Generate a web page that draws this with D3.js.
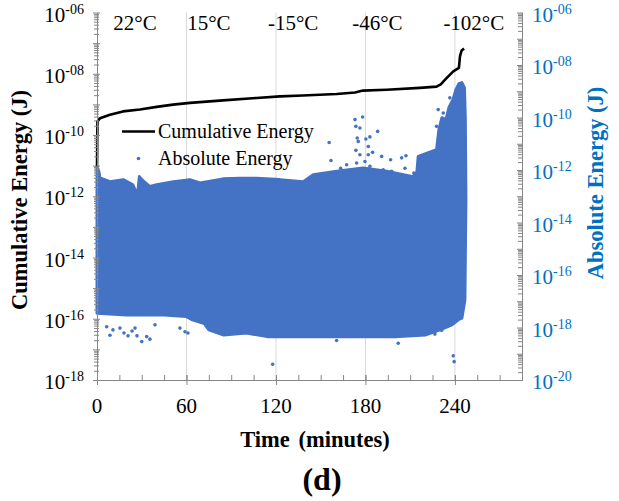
<!DOCTYPE html>
<html><head><meta charset="utf-8">
<script src="https://cdn.jsdelivr.net/npm/d3@7"></script>
<style>body{margin:0;background:#fff} svg{display:block}</style>
</head><body><svg id="c" width="619" height="501"></svg>
<script>
// ---------- data ----------
const cumTime   = [0, 0.3, 2.0, 8.7, 17.4, 28.8, 40, 51, 62.3, 84.5, 107, 122.7, 138, 160.7, 173, 178.3, 194.2, 216.5, 227.7, 230.5, 234.4, 238.9, 242.7, 243.4, 244.5, 246.2];
const cumEnergy = [9.1e-12, 2.8e-10, 3.5e-10, 4.6e-10, 5.9e-10, 6.8e-10, 8.3e-10, 9.8e-10, 1.12e-9, 1.35e-9, 1.62e-9, 1.82e-9, 1.95e-9, 2.19e-9, 2.45e-9, 2.82e-9, 3.02e-9, 3.47e-9, 3.8e-9, 4.5e-9, 7.2e-9, 1.2e-8, 1.55e-8, 3.7e-8, 5.75e-8, 6.6e-8];

// dense cloud of absolute-energy hits: upper and lower envelope
const absUpperTime   = [0, 1.3, 2.0, 8.7, 17.6, 24.1, 26.1, 27.5, 28.4, 30.8, 35.5, 40, 51.2, 62.3, 69, 84.5, 95.9, 107, 122.7, 138.3, 145, 160.7, 178.5, 194.2, 212, 214.5, 215.4, 227.7, 229.3, 231.3, 234, 236, 238.7, 240.7, 242.7, 244.7, 246.4, 247, 247.4, 246.7];
const absUpperEnergy = [1.38e-12, 8.5e-13, 5.0e-13, 3.6e-13, 4.3e-13, 2.75e-13, 1.48e-13, 1.74e-13, 5.6e-13, 3.9e-13, 2.34e-13, 2.75e-13, 3.6e-13, 4.3e-13, 3.2e-13, 4.6e-13, 4.9e-13, 4.9e-13, 4.3e-13, 3.6e-13, 6.6e-13, 9.0e-13, 1.2e-12, 8.9e-13, 5.6e-13, 8.5e-13, 3.3e-12, 5.9e-12, 3.5e-11, 9.8e-11, 8.3e-11, 2.4e-10, 4.8e-10, 1.15e-9, 1.95e-9, 2.14e-9, 1.38e-9, 8.3e-11, 7.4e-14, 1.12e-17];
const absLowerTime   = [0, 20, 45, 60, 64, 72, 75, 85, 100, 115, 130, 160, 200, 220, 230, 238, 243, 244.7];
const absLowerEnergy = [3.5e-18, 3.0e-18, 3.0e-18, 2.6e-18, 1.95e-18, 1.4e-18, 8.1e-19, 5.2e-19, 6.2e-19, 4.4e-19, 4.4e-19, 4.4e-19, 4.4e-19, 5.2e-19, 8.1e-19, 1.26e-18, 2.1e-18, 2.3e-18];

// isolated hits outside the dense cloud
const absOutTime   = [6.5, 8.7, 10.7, 15.4, 18.1, 20.8, 23.5, 25.5, 26.8, 30, 33.3, 35.5, 38.9, 55.6, 59, 61, 117.8, 160.7, 202, 226.6, 231.1, 238.9, 239.5,
                      155.7, 156.9, 167.4, 173, 173.6, 178.1, 176.3, 174.5, 175.2, 180.3, 183, 181.9, 173.6, 176.3, 181.9, 184.8, 188.2, 190.9, 196.9, 204.3, 207.2, 179.7, 183, 191.9, 197.6, 206.5, 212.5, 174.1, 163.4, 228.8, 232.2, 227.7, 236.6];
const absOutEnergy = [1.07e-18, 5.1e-19, 8.1e-19, 9.5e-19, 6.2e-19, 4.8e-19, 7.4e-19, 9.5e-19, 4.8e-19, 2.9e-19, 4.5e-19, 3.6e-19, 1.26e-18, 9.5e-19, 6.9e-19, 6.2e-19, 4.0e-20, 3.2e-19, 2.5e-19, 5.6e-19, 7.8e-19, 8.3e-20, 5.0e-20,
                      1.12e-11, 2.3e-12, 1.58e-12, 8.3e-11, 4.6e-11, 1.05e-10, 4.0e-11, 1.66e-11, 1.23e-11, 1.51e-11, 1.82e-11, 7.9e-12, 5.6e-12, 3.8e-12, 3.8e-12, 4.7e-12, 2.95e-11, 3.3e-12, 2.45e-12, 2.9e-12, 3.5e-12, 2.1e-12, 1.38e-12, 1.02e-12, 8.9e-13, 1.17e-12, 7.6e-13, 1.86e-12, 1.17e-12, 2.0e-10, 1.48e-10, 4.6e-11, 5.6e-10];

const tempLabels = ["22°C", "15°C", "-15°C", "-46°C", "-102°C"];
const tempTimes  = [25.5, 75, 131.5, 188, 252.7];

const xTicks      = [0, 60, 120, 180, 240];
const xMinorTicks = d3.range(0, 286, 15);
const leftExps  = [-6, -8, -10, -12, -14, -16, -18];
const rightExps = [-6, -8, -10, -12, -14, -16, -18, -20];

// ---------- layout ----------
const svg = d3.select("#c");
const L = 97, R = 522, T = 12.5, B = 380;
const serif = "'Liberation Serif','Times New Roman',serif";
const blue = "#4472C4", axisBlue = "#0070C0", axisGray = "#868686";

const x  = d3.scaleLinear().domain([0, 285]).range([L, R]);
const yL = d3.scaleLog().domain([1e-18, 1e-6]).range([B, T]);
const yR = d3.scaleLog().domain([1e-20, 1e-6]).range([B, T]);

// vertical grid
svg.append("g").selectAll("line").data(xTicks.slice(1)).join("line")
  .attr("x1", d => x(d)).attr("x2", d => x(d)).attr("y1", T).attr("y2", B)
  .attr("stroke", "#d9d9d9").attr("stroke-width", 1);

// dense absolute energy cloud
const cloud = absUpperTime.map((t, i) => [t, absUpperEnergy[i]])
  .concat(absLowerTime.map((t, i) => [t, absLowerEnergy[i]]).reverse());
svg.append("path")
  .attr("d", d3.line().x(d => x(d[0])).y(d => yR(d[1])).curve(d3.curveLinearClosed)(cloud))
  .attr("fill", blue).attr("stroke", blue).attr("stroke-width", 3).attr("stroke-linejoin", "round");

// isolated hits
svg.append("g").selectAll("circle").data(absOutTime.map((t, i) => [t, absOutEnergy[i]])).join("circle")
  .attr("cx", d => x(d[0])).attr("cy", d => yR(d[1])).attr("r", 1.8).attr("fill", blue);

// cumulative energy
svg.append("path")
  .attr("d", d3.line().x((d, i) => x(cumTime[i])).y(d => yL(d))(cumEnergy))
  .attr("fill", "none").attr("stroke", "#000").attr("stroke-width", 2.6).attr("stroke-linejoin", "round");

// ---------- axes ----------
function minorLog(lo, hi) {
  const out = [];
  for (let e = lo; e < hi; e++) for (let k = 2; k <= 9; k++) out.push(k * Math.pow(10, e));
  return out;
}
function styleAxis(g) {
  g.select(".domain").attr("stroke", axisGray);
  g.selectAll(".tick line").attr("stroke", axisGray);
}

// left axis
const gl = svg.append("g").attr("transform", `translate(${L},0)`);
gl.append("g").call(d3.axisLeft(yL).tickValues(minorLog(-18, -6)).tickSize(0).tickFormat(""))
  .call(g => g.selectAll(".tick line").attr("x1", -3).attr("x2", 2)).call(styleAxis);
gl.append("g").call(d3.axisLeft(yL).tickValues(d3.range(-18, -5).map(e => Math.pow(10, e))).tickSizeOuter(0).tickFormat(""))
  .call(g => g.selectAll(".tick line").attr("x1", -4).attr("x2", 3)).call(styleAxis);
const lt = gl.append("g").selectAll("text").data(leftExps).join("text")
  .attr("x", -13).attr("y", d => yL(Math.pow(10, d)) + 9)
  .attr("text-anchor", "end").attr("font-family", serif).attr("fill", "#000");
lt.append("tspan").attr("font-size", 21).text("10");
lt.append("tspan").attr("font-size", 14).attr("dy", -8).text(d => "-" + String(-d).padStart(2, "0"));

// right axis
const gr = svg.append("g").attr("transform", `translate(${R},0)`);
gr.append("g").call(d3.axisRight(yR).tickValues(minorLog(-20, -6)).tickSize(0).tickFormat(""))
  .call(g => g.selectAll(".tick line").attr("x1", -4).attr("x2", 0)).call(styleAxis);
gr.append("g").call(d3.axisRight(yR).tickValues(d3.range(-20, -5).map(e => Math.pow(10, e))).tickSizeOuter(0).tickFormat(""))
  .call(g => g.selectAll(".tick line").attr("x1", -5).attr("x2", 1)).call(styleAxis);
const rt = gr.append("g").selectAll("text").data(rightExps).join("text")
  .attr("x", 10).attr("y", d => yR(Math.pow(10, d)) + 9)
  .attr("text-anchor", "start").attr("font-family", serif).attr("fill", axisBlue);
rt.append("tspan").attr("font-size", 21).text("10");
rt.append("tspan").attr("font-size", 14).attr("dy", -8).text(d => "-" + String(-d).padStart(2, "0"));

// bottom axis
const gb = svg.append("g").attr("transform", `translate(0,${B})`);
gb.append("g").call(d3.axisBottom(x).tickValues(xMinorTicks).tickSizeOuter(0).tickFormat(""))
  .call(g => g.selectAll(".tick line").attr("y1", -5).attr("y2", 0)).call(styleAxis);
gb.append("g").call(d3.axisBottom(x).tickValues(xTicks).tickSizeOuter(0).tickFormat(""))
  .call(g => g.selectAll(".tick line").attr("y1", -5).attr("y2", 5)).call(styleAxis);
gb.append("g").selectAll("text").data(xTicks).join("text")
  .attr("x", d => x(d)).attr("y", 33).attr("text-anchor", "middle")
  .attr("font-family", serif).attr("font-size", 21).text(d => d);

// temperature labels
svg.append("g").selectAll("text").data(tempLabels).join("text")
  .attr("x", (d, i) => x(tempTimes[i])).attr("y", 30).attr("text-anchor", "middle")
  .attr("font-family", serif).attr("font-size", 21).text(d => d);

// titles
svg.append("text").attr("x", 315).attr("y", 447).attr("text-anchor", "middle")
  .attr("font-family", serif).attr("font-weight", "bold").attr("font-size", 22.5).attr("word-spacing", 3).text("Time (minutes)");
svg.append("text").attr("x", 322).attr("y", 490).attr("text-anchor", "middle")
  .attr("font-family", serif).attr("font-weight", "bold").attr("font-size", 32).text("(d)");
svg.append("text").attr("transform", "translate(27,200) rotate(-90)").attr("text-anchor", "middle")
  .attr("font-family", serif).attr("font-weight", "bold").attr("font-size", 22.5).text("Cumulative Energy (J)");
svg.append("text").attr("transform", "translate(603,183) rotate(-90)").attr("text-anchor", "middle")
  .attr("font-family", serif).attr("font-weight", "bold").attr("font-size", 22.5).attr("fill", axisBlue).text("Absolute Energy (J)");

// legend
const lg = svg.append("g");
lg.append("line").attr("x1", 122).attr("x2", 155).attr("y1", 131.5).attr("y2", 131.5)
  .attr("stroke", "#000").attr("stroke-width", 2.6);
lg.append("text").attr("x", 158).attr("y", 138).attr("font-family", serif).attr("font-size", 20).text("Cumulative Energy");
lg.append("circle").attr("cx", 138.5).attr("cy", 158.5).attr("r", 1.8).attr("fill", blue);
lg.append("text").attr("x", 158).attr("y", 165).attr("font-family", serif).attr("font-size", 20).text("Absolute Energy");
</script></body></html>
